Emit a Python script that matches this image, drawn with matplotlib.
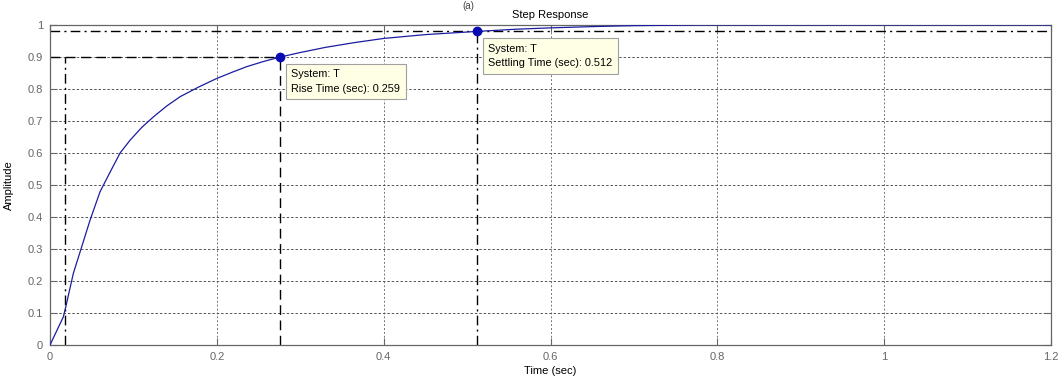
import matplotlib.pyplot as plt
import numpy as np

plt.rcParams['font.family'] = ['Liberation Sans', 'DejaVu Sans']

# step response
time = [0, 0.016, 0.019, 0.028, 0.038, 0.048, 0.06, 0.072, 0.084, 0.096, 0.11,
        0.124, 0.14, 0.156, 0.178, 0.2, 0.218, 0.236, 0.256, 0.276, 0.3, 0.33,
        0.365, 0.4, 0.45, 0.512, 0.56, 0.6, 0.65, 0.7, 0.78, 1.2]
amplitude = [0, 0.088, 0.12, 0.224, 0.307, 0.39, 0.479, 0.54, 0.6, 0.64, 0.68,
             0.713, 0.747, 0.776, 0.806, 0.833, 0.852, 0.87, 0.886, 0.9, 0.914, 0.93,
             0.945, 0.958, 0.97, 0.98, 0.987, 0.991, 0.995, 0.998, 1.0, 1.0]

t10 = 0.018
t90 = 0.276
rise_time = 0.259
settle_t = 0.512
settle_band = 0.98

xticks = [0, 0.2, 0.4, 0.6, 0.8, 1, 1.2]
xtick_labels = ["0", "0.2", "0.4", "0.6", "0.8", "1", "1.2"]
yticks = [0, 0.1, 0.2, 0.3, 0.4, 0.5, 0.6, 0.7, 0.8, 0.9, 1]
ytick_labels = ["0", "0.1", "0.2", "0.3", "0.4", "0.5", "0.6", "0.7", "0.8", "0.9", "1"]

fig = plt.figure(figsize=(10.6, 3.85), dpi=100)
ax = fig.add_axes([50 / 1060, 40 / 385, 1001 / 1060, 320 / 385])

ax.set_xlim(0, 1.2)
ax.set_ylim(0, 1)

for x in xticks[1:-1]:
    ax.axvline(x, color='#777777', lw=0.7, ls=(0, (2, 2)), zorder=1)
for y in yticks[1:-1]:
    ax.axhline(y, color='#555555', lw=0.7, ls=(0, (2.5, 2)), zorder=1)

# rise / settling characteristic lines
ax.plot([0, t90], [0.9, 0.9], color='k', lw=1, ls=(0, (7, 4)), zorder=2)
ax.plot([t90, t90], [0, 0.9], color='k', lw=1, ls=(0, (7, 4)), zorder=2)
ax.plot([t10, t10], [0, 0.9], color='k', lw=1, ls=(0, (7, 3, 1.5, 3)), zorder=2)
ax.axhline(settle_band, color='k', lw=1, ls=(0, (7, 3, 1.5, 3)), zorder=2)
ax.plot([settle_t, settle_t], [0, settle_band], color='k', lw=1,
        ls=(0, (7, 3, 1.5, 3)), zorder=2)

ax.plot(time, amplitude, color='#1c1ca0', lw=0.9, zorder=3)
ax.plot([t90, settle_t], [0.9, settle_band], 'o', color='#0a0ab4', ms=6, zorder=4)

box = dict(boxstyle='square,pad=0.5', fc='#ffffe6', ec='#a0a0a0', lw=0.8)
ax.annotate("System: T\nRise Time (sec): %.3f" % rise_time, xy=(t90, 0.9),
            xytext=(8, -9), textcoords='offset points', ha='left', va='top',
            fontsize=7.8, bbox=box, zorder=5, linespacing=1.55)
ax.annotate("System: T\nSettling Time (sec): %.3f" % settle_t, xy=(settle_t, settle_band),
            xytext=(8, -9), textcoords='offset points', ha='left', va='top',
            fontsize=7.8, bbox=box, zorder=5, linespacing=1.55)

ax.set_xticks(xticks)
ax.set_xticklabels(xtick_labels)
ax.set_yticks(yticks)
ax.set_yticklabels(ytick_labels)
ax.tick_params(direction='in', length=5, width=0.8, colors='#666666',
               labelsize=8, top=True, right=True, pad=5)
for s in ax.spines.values():
    s.set_color('#666666')
    s.set_linewidth(0.9)

ax.set_title("Step Response", fontsize=8, pad=5)
ax.set_xlabel("Time (sec)", fontsize=8, labelpad=3)
ax.set_ylabel("Amplitude", fontsize=8, labelpad=10)

fig.text(468 / 1060, 0.998, "(a)", fontsize=7, ha='center', va='top', color='#444444')

fig.savefig("out.png", dpi=100)
